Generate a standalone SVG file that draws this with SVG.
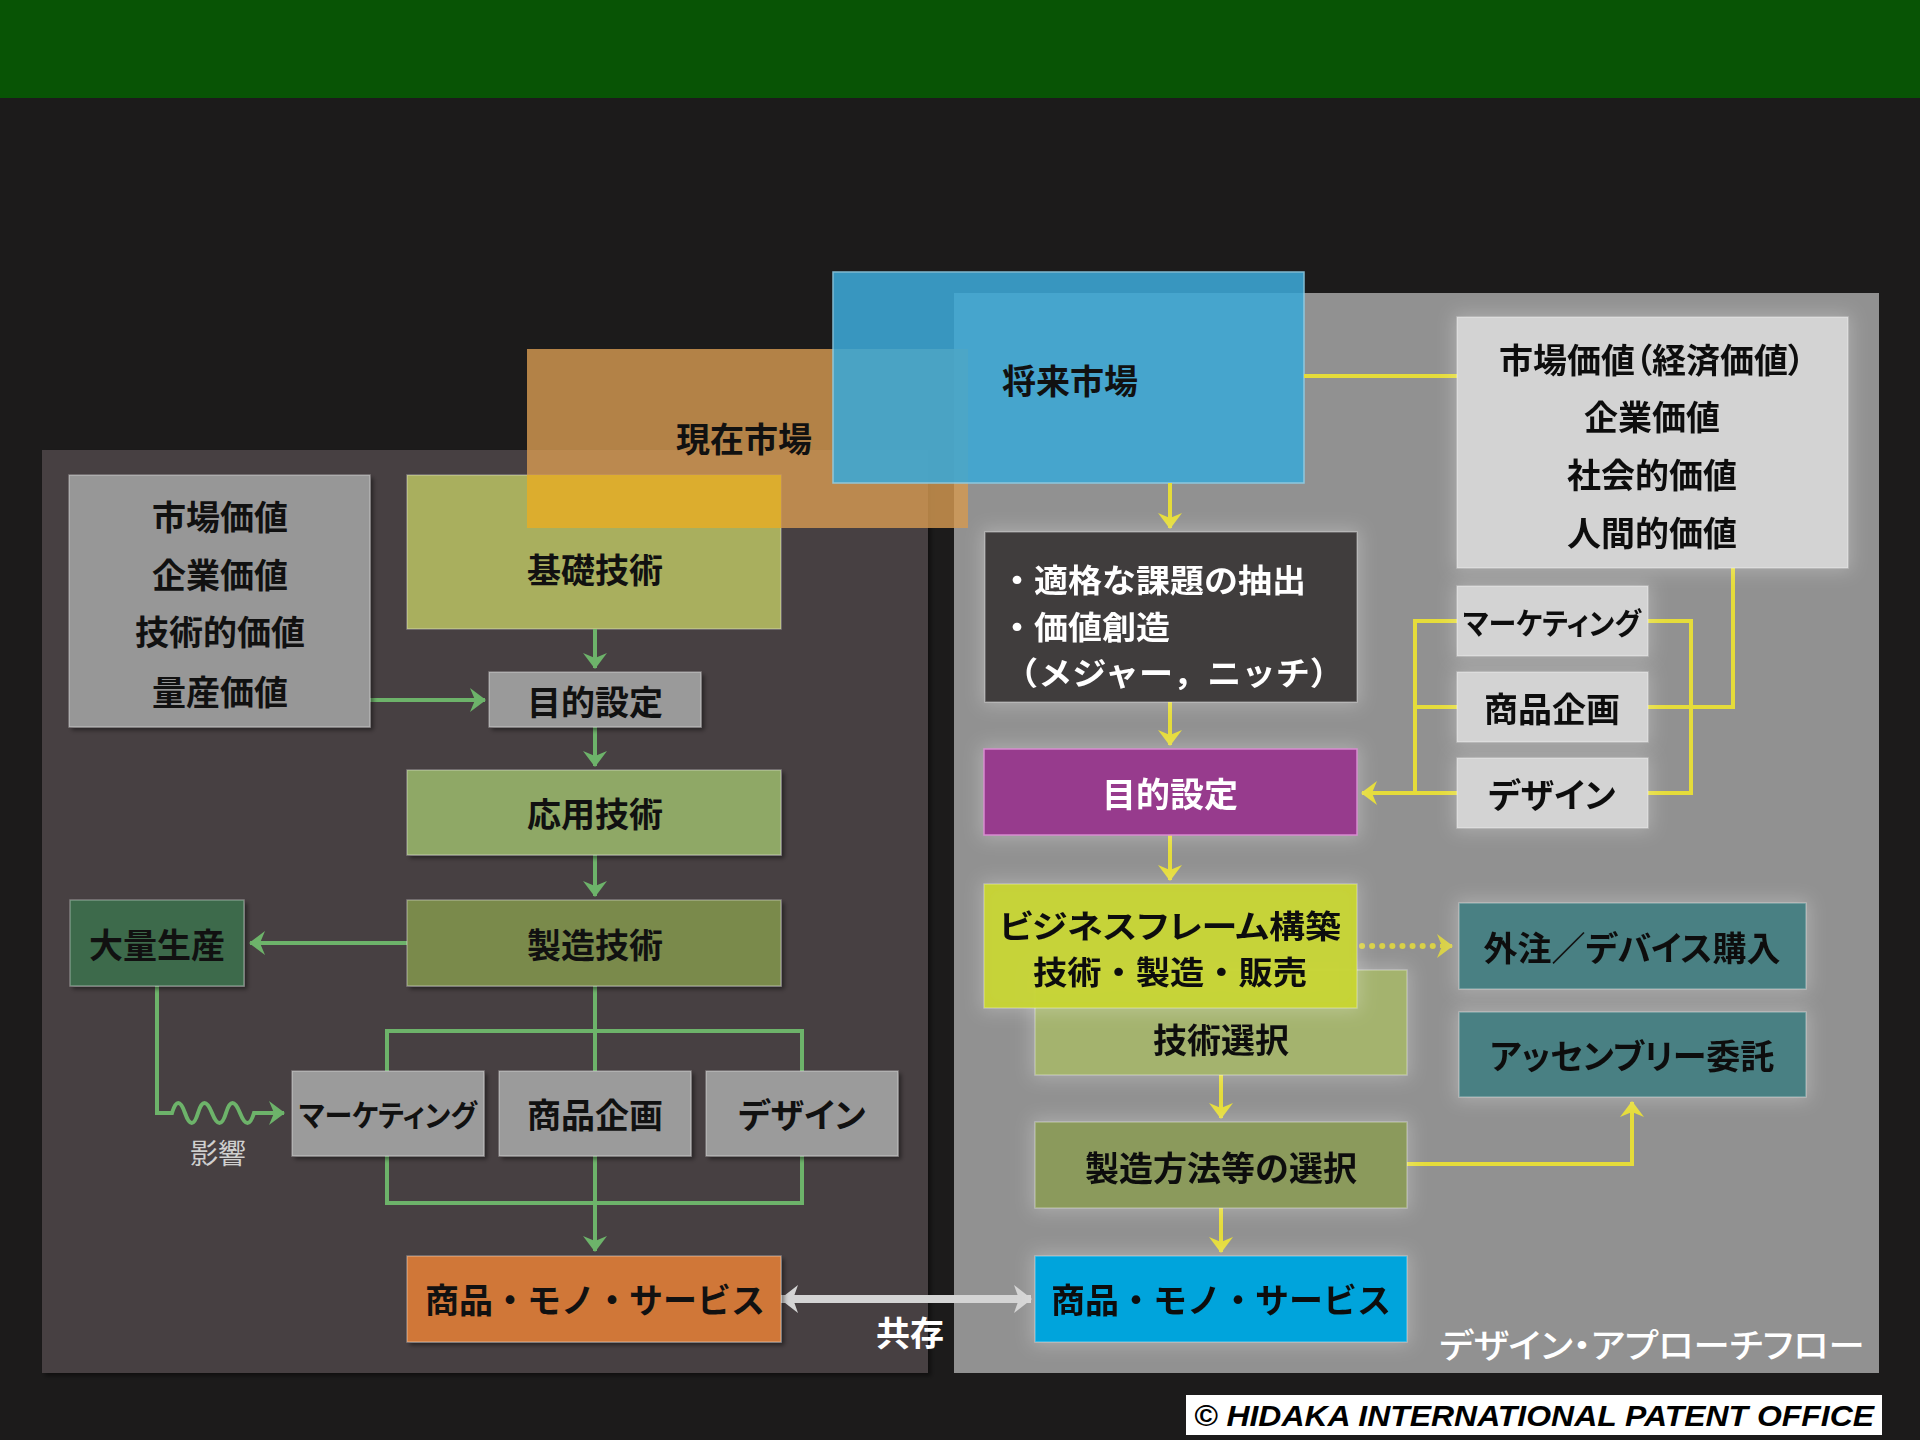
<svg xmlns="http://www.w3.org/2000/svg" width="1920" height="1440" viewBox="0 0 1920 1440">
<defs>
<style>
.t{font-family:"Noto Sans CJK JP","Noto Sans CJK SC",sans-serif;font-weight:700;font-size:34px;text-anchor:middle;dominant-baseline:central;fill:#111}
.w{fill:#fff}
.p{font-feature-settings:"palt"}
.g{fill:none;stroke:#6db36a;stroke-width:4}
.y{fill:none;stroke:#e5dc3a;stroke-width:4}
.bx{stroke:rgba(255,255,255,0.3);stroke-width:1.5}
</style>
<marker id="ag" viewBox="0 0 16 24" refX="15" refY="12" markerWidth="16" markerHeight="24" markerUnits="userSpaceOnUse" orient="auto"><path d="M0,0 L16,12 L0,24 L5,12 z" fill="#6db36a"/></marker>
<marker id="ay" viewBox="0 0 16 24" refX="15" refY="12" markerWidth="16" markerHeight="24" markerUnits="userSpaceOnUse" orient="auto"><path d="M0,0 L16,12 L0,24 L5,12 z" fill="#e5dc3a"/></marker>
<marker id="aw" viewBox="0 0 18 28" refX="17" refY="14" markerWidth="18" markerHeight="28" markerUnits="userSpaceOnUse" orient="auto-start-reverse"><path d="M0,0 L18,14 L0,28 L5,14 z" fill="#d4d4d4"/></marker>
<filter id="sh" x="-10%" y="-10%" width="130%" height="130%"><feDropShadow dx="3" dy="3" stdDeviation="2" flood-color="#000" flood-opacity="0.45"/></filter>
<filter id="glow" x="-20%" y="-30%" width="140%" height="160%"><feMorphology in="SourceAlpha" operator="dilate" radius="3" result="d"/><feGaussianBlur in="d" stdDeviation="9" result="b"/><feFlood flood-color="#ffffff" flood-opacity="0.25"/><feComposite in2="b" operator="in" result="gl"/><feMerge><feMergeNode in="gl"/><feMergeNode in="SourceGraphic"/></feMerge></filter>
</defs>

<rect width="1920" height="1440" fill="#1c1b1b"/>
<rect width="1920" height="98" fill="#085405"/>

<g id="panel-left"><rect x="42" y="450" width="886" height="923" fill="#464142" filter="url(#sh)"/></g>
<g id="panel-right"><rect x="954" y="293" width="925" height="1080" fill="#919191"/>
<text class="t w p" x="1652" y="1343" style="font-weight:500" textLength="425" lengthAdjust="spacingAndGlyphs">デザイン・アプローチフロー</text></g>

<g id="kiso"><rect x="407" y="475" width="374" height="154" fill="#a9af5e" class="bx"/><text class="t" x="595" y="568">基礎技術</text></g>
<g id="genzai"><rect x="527" y="349" width="441" height="179" fill="#d49a52" opacity="0.82"/><rect x="527" y="475" width="254" height="53" fill="#dcad2e"/><text class="t" x="812" y="437" style="text-anchor:end">現在市場</text></g>
<g id="shourai"><rect x="833" y="272" width="471" height="211" fill="#3ca8d6" opacity="0.88" stroke="#8fd0ea" stroke-width="1.5"/><text class="t" x="1002" y="379" style="text-anchor:start">将来市場</text></g>

<g id="connectors">
<path class="g" d="M595,629 V668" marker-end="url(#ag)"/>
<path class="g" d="M370,700 H485" marker-end="url(#ag)"/>
<path class="g" d="M595,727 V766" marker-end="url(#ag)"/>
<path class="g" d="M595,855 V896" marker-end="url(#ag)"/>
<path class="g" d="M407,943 H250" marker-end="url(#ag)"/>
<path class="g" d="M595,986 V1071 M387,1071 V1031 H802 V1071"/>
<path class="g" d="M387,1156 V1203 H802 V1156 M595,1156 V1203"/>
<path class="g" d="M595,1203 V1251" marker-end="url(#ag)"/>
<path class="g" d="M157,986 V1113 H172 Q178,1093 185,1113 T198,1113 T212,1113 T226,1113 T240,1113 T254,1113 H284" marker-end="url(#ag)"/>
<path d="M781,1299 H1031" fill="none" stroke="#d4d4d4" stroke-width="8" marker-start="url(#aw)" marker-end="url(#aw)"/>
<path class="y" d="M1170,483 V528" marker-end="url(#ay)"/>
<path class="y" d="M1304,376 H1457"/>
<path class="y" d="M1170,702 V745" marker-end="url(#ay)"/>
<path class="y" d="M1170,835 V880" marker-end="url(#ay)"/>
<path class="y" d="M1457,621 H1415 V793 M1457,707 H1415"/>
<path class="y" d="M1457,793 H1362" marker-end="url(#ay)"/>
<path class="y" d="M1648,621 H1691 V793 H1648 M1733,568 V707 H1648"/>
<path d="M1362,946 H1440" fill="none" stroke="#e5dc3a" stroke-width="6" stroke-linecap="round" stroke-dasharray="0.1 10" opacity="0.85"/>
<path class="y" d="M1440,946 H1452" marker-end="url(#ay)" opacity="0.85"/>
<path class="y" d="M1221,1075 V1118" marker-end="url(#ay)"/>
<path class="y" d="M1221,1208 V1252" marker-end="url(#ay)"/>
<path class="y" d="M1407,1164 H1632 V1102" marker-end="url(#ay)"/>
</g>

<g id="values-left"><rect x="69" y="475" width="301" height="252" fill="#979797" class="bx" filter="url(#sh)"/>
<text class="t" x="220" y="515">市場価値</text><text class="t" x="220" y="573">企業価値</text><text class="t" x="220" y="630">技術的価値</text><text class="t" x="220" y="690">量産価値</text></g>
<g id="mokuteki-left"><rect x="489" y="672" width="212" height="55" fill="#9a9a9a" class="bx" filter="url(#sh)"/><text class="t" x="595" y="700">目的設定</text></g>
<g id="ouyou"><rect x="407" y="770" width="374" height="85" fill="#8fa866" class="bx" filter="url(#sh)"/><text class="t" x="595" y="812">応用技術</text></g>
<g id="seizou"><rect x="407" y="900" width="374" height="86" fill="#7a8a4c" class="bx" filter="url(#sh)"/><text class="t" x="595" y="943">製造技術</text></g>
<g id="tairyou"><rect x="70" y="900" width="174" height="86" fill="#3e6b4c" class="bx" filter="url(#sh)"/><text class="t" x="157" y="943">大量生産</text></g>
<g id="mkt-left"><rect x="292" y="1071" width="192" height="85" fill="#9b9b9b" class="bx" filter="url(#sh)"/><text class="t p" x="388" y="1113" style="font-size:30px" textLength="178" lengthAdjust="spacingAndGlyphs">マーケティング</text></g>
<g id="kikaku-left"><rect x="499" y="1071" width="192" height="85" fill="#9b9b9b" class="bx" filter="url(#sh)"/><text class="t" x="595" y="1113">商品企画</text></g>
<g id="design-left"><rect x="706" y="1071" width="192" height="85" fill="#9b9b9b" class="bx" filter="url(#sh)"/><text class="t p" x="802" y="1113">デザイン</text></g>
<g id="eikyou"><text class="t" x="218" y="1152" style="font-size:28px;font-weight:400;fill:#cfcfcf">影響</text></g>
<g id="shohin-left"><rect x="407" y="1256" width="374" height="86" fill="#d07738" class="bx" filter="url(#sh)"/><text class="t" x="595" y="1298">商品・モノ・サービス</text></g>
<g id="kyouzon"><text class="t w" x="910" y="1331">共存</text></g>

<g id="values-right" filter="url(#glow)"><rect x="1457" y="317" width="391" height="251" fill="#d3d3d3" class="bx"/>
<text class="t p" x="1652" y="358">市場価値（経済価値）</text><text class="t" x="1652" y="415">企業価値</text><text class="t" x="1652" y="473">社会的価値</text><text class="t" x="1652" y="531">人間的価値</text></g>
<g id="kadai" filter="url(#glow)"><rect x="985" y="532" width="372" height="170" fill="#403c3d" class="bx"/>
<text class="t w" style="text-anchor:start;font-size:32px"><tspan x="1000" y="578" textLength="306" lengthAdjust="spacingAndGlyphs">・適格な課題の抽出</tspan><tspan x="1000" y="625" textLength="170" lengthAdjust="spacingAndGlyphs">・価値創造</tspan><tspan x="1004" y="671" textLength="340" lengthAdjust="spacingAndGlyphs">（メジャー，ニッチ）</tspan></text></g>
<g id="mokuteki-right" filter="url(#glow)"><rect x="984" y="749" width="373" height="86" fill="#973a8d" stroke="#d78ad0" stroke-width="1.5"/><text class="t w" x="1170" y="792">目的設定</text></g>
<g id="mkt-right" filter="url(#glow)"><rect x="1457" y="586" width="191" height="70" fill="#d3d3d3" class="bx"/><text class="t p" x="1552" y="621" style="font-size:30px" textLength="178" lengthAdjust="spacingAndGlyphs">マーケティング</text></g>
<g id="kikaku-right" filter="url(#glow)"><rect x="1457" y="672" width="191" height="70" fill="#d3d3d3" class="bx"/><text class="t" x="1552" y="707">商品企画</text></g>
<g id="design-right" filter="url(#glow)"><rect x="1457" y="758" width="191" height="70" fill="#d3d3d3" class="bx"/><text class="t p" x="1552" y="793">デザイン</text></g>
<g id="gijutsu-sentaku" filter="url(#glow)"><rect x="1035" y="970" width="372" height="105" fill="#a4b36e" class="bx"/><text class="t" x="1221" y="1038">技術選択</text></g>
<g id="business" filter="url(#glow)"><rect x="984" y="884" width="373" height="124" fill="#c8d52c" opacity="0.95" class="bx"/><text class="t" style="font-size:32px"><tspan x="1170" y="924" style="font-feature-settings:'palt'" textLength="342" lengthAdjust="spacingAndGlyphs">ビジネスフレーム構築</tspan><tspan x="1170" y="970" textLength="274" lengthAdjust="spacingAndGlyphs">技術・製造・販売</tspan></text></g>
<g id="seizou-houhou" filter="url(#glow)"><rect x="1035" y="1122" width="372" height="86" fill="#8b9a5c" class="bx"/><text class="t" x="1221" y="1166">製造方法等の選択</text></g>
<g id="shohin-right" filter="url(#glow)"><rect x="1035" y="1256" width="372" height="86" fill="#00a4dc" class="bx"/><text class="t" x="1221" y="1298">商品・モノ・サービス</text></g>
<g id="gaichu" filter="url(#glow)"><rect x="1459" y="903" width="347" height="86" fill="#4a8083" class="bx"/><text class="t p" x="1632" y="946">外注／デバイス購入</text></g>
<g id="assembly" filter="url(#glow)"><rect x="1459" y="1012" width="347" height="85" fill="#4a8083" class="bx"/><text class="t p" x="1632" y="1054">アッセンブリー委託</text></g>

<g id="copyright"><rect x="1186" y="1395" width="696" height="40" fill="#ffffff"/><text x="1534" y="1415" style="font-family:'Liberation Sans',Arial,sans-serif;font-weight:700;font-style:italic;font-size:30px;text-anchor:middle;dominant-baseline:central;fill:#000" textLength="680" lengthAdjust="spacingAndGlyphs">© HIDAKA INTERNATIONAL PATENT OFFICE</text></g>
</svg>
